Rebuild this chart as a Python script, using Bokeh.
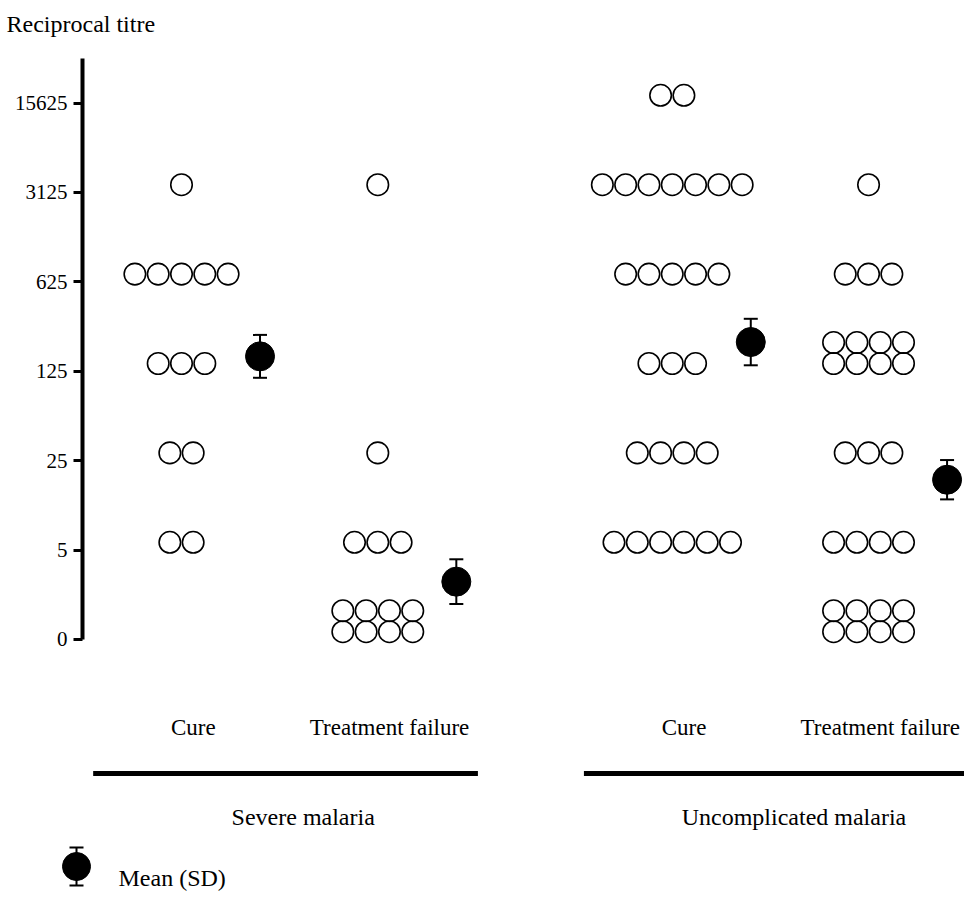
import math
from bokeh.plotting import figure
from bokeh.models import Range1d, LinearAxis, FixedTicker, ColumnDataSource, Whisker, TeeHead
from bokeh.core.properties import value
from bokeh.embed import file_html
from bokeh.resources import INLINE

# ---------------- data ----------------
tick_levels = [0, 1, 2, 3, 4, 5, 6]
tick_labels = ["0", "5", "25", "125", "625", "3125", "15625"]
diseases = ["Severe malaria", "Uncomplicated malaria"]
outcomes = ["Cure", "Treatment failure"]
# number of patients at each titre level (index = log5 level 0..6)
sev_cure_counts = [0, 2, 2, 3, 5, 1, 0]
sev_fail_counts = [8, 3, 1, 0, 0, 1, 0]
unc_cure_counts = [0, 6, 4, 3, 5, 7, 2]
unc_fail_counts = [8, 4, 3, 8, 3, 1, 0]
# mean and SD of log5 titre for each group
mean_log5 = [3.08, 0.56, 3.24, 1.70]
sd_log5 = [0.24, 0.25, 0.26, 0.22]

# ---------------- layout ----------------
W, H = 964, 893
PX_X = 196.3           # pixels per group step
PX_Y = 89.4            # pixels per log5 step
X0 = -181 / PX_X
X1 = X0 + W / PX_X
Y1 = 631.2 / PX_Y
Y0 = Y1 - H / PX_Y
AXIS_SHIFT = 0.087     # dots sit slightly above their tick
PITCH = 23.3 / PX_X
STACK = 0.235
MAXROW = 7
FONT = value("Liberation Serif")

def px(xp):
    return X0 + xp / PX_X

def py(yp):
    return Y1 - yp / PX_Y

p = figure(width=W, height=H, output_backend="svg", toolbar_location=None,
           x_range=Range1d(X0, X1), y_range=Range1d(Y0, Y1),
           x_axis_type=None, y_axis_type=None, min_border=0,
           outline_line_color=None)
p.grid.visible = False
p.background_fill_color = "white"
p.border_fill_color = "white"

p.extra_y_ranges = {"titre": Range1d(Y0 + AXIS_SHIFT, Y1 + AXIS_SHIFT)}
yax = LinearAxis(y_range_name="titre", fixed_location=px(82),
                 ticker=FixedTicker(ticks=tick_levels, minor_ticks=[]),
                 major_label_overrides={t: l for t, l in zip(tick_levels, tick_labels)},
                 bounds=(0, 6.5))
yax.axis_line_width = 4
yax.axis_line_color = "black"
yax.major_tick_line_width = 3
yax.major_tick_out = 9
yax.major_tick_in = 0
yax.minor_tick_out = 0
yax.minor_tick_in = 0
yax.major_label_standoff = 6
yax.major_label_text_font = "Liberation Serif"
yax.major_label_text_font_size = "21px"
yax.major_label_text_color = "black"
p.add_layout(yax, "left")

group_counts = [sev_cure_counts, sev_fail_counts, unc_cure_counts, unc_fail_counts]
group_pos = [d * 2.5 + o for d in range(len(diseases)) for o in range(len(outcomes))]

xs, ys = [], []
for gx, counts in zip(group_pos, group_counts):
    for level, n in enumerate(counts):
        if n == 0:
            continue
        nrows = 1 if n <= MAXROW else 2
        per_row = math.ceil(n / nrows)
        left = n
        for r in range(nrows):
            k = min(per_row, left)
            left -= k
            for i in range(k):
                xs.append(gx + (i - (k - 1) / 2) * PITCH)
                ys.append(level + r * STACK)

p.scatter(xs, ys, size=21.5, fill_color=None, line_color="black", line_width=1.6)

mx = [g + 0.40 for g in group_pos]
msrc = ColumnDataSource(dict(x=mx, m=mean_log5,
                             upper=[m + s for m, s in zip(mean_log5, sd_log5)],
                             lower=[m - s for m, s in zip(mean_log5, sd_log5)]))
p.add_layout(Whisker(source=msrc, base="x", upper="upper", lower="lower",
                     dimension="height", line_width=2, line_color="black",
                     upper_head=TeeHead(size=14, line_width=2, line_color="black"),
                     lower_head=TeeHead(size=14, line_width=2, line_color="black")))
p.scatter("x", "m", source=msrc, size=29, fill_color="black", line_color="black")

# category labels
sub_x = [g + 0.06 for g in group_pos]
sub_t = [o for d in diseases for o in outcomes]
p.text(sub_x, [py(727)] * len(sub_x), text=sub_t, text_font=FONT, text_font_size="23px",
       text_align="center", text_baseline="middle", text_color="black")

# group lines & labels
lx0, lx1, gx_lab = [], [], []
for d in range(len(diseases)):
    first = group_pos[d * 2]
    last = group_pos[d * 2 + 1]
    lx0.append(first - 0.45)
    lx1.append(last + 0.51)
    gx_lab.append((first + last) / 2 + 0.12)
p.segment(lx0, [py(773)] * 2, lx1, [py(773)] * 2, line_width=5, line_color="black")
p.text(gx_lab, [py(816)] * 2, text=diseases, text_font=FONT, text_font_size="24px",
       text_align="center", text_baseline="middle", text_color="black")

# y title
p.text([px(6)], [py(23)], text=["Reciprocal titre"], text_font=FONT, text_font_size="24px",
       text_align="left", text_baseline="middle", text_color="black")

# legend
lgx, lgy = px(76), py(866)
p.segment([lgx], [lgy - 0.2125], [lgx], [lgy + 0.2125], line_width=2, line_color="black")
cap = 7 / PX_X
p.segment([lgx - cap, lgx - cap], [lgy - 0.2125, lgy + 0.2125],
          [lgx + cap, lgx + cap], [lgy - 0.2125, lgy + 0.2125], line_width=2, line_color="black")
p.scatter([lgx], [lgy], size=28, fill_color="black", line_color="black")
p.text([px(118)], [py(877)], text=["Mean (SD)"], text_font=FONT, text_font_size="24px",
       text_align="left", text_baseline="middle", text_color="black")

open("out.html", "w").write(file_html(p, INLINE))
